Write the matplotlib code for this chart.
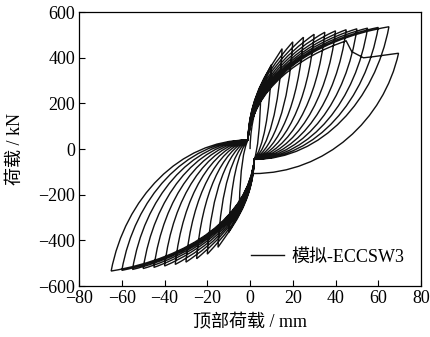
import numpy as np
import matplotlib
matplotlib.use("Agg")
import matplotlib.pyplot as plt
from matplotlib.path import Path
from matplotlib.patches import PathPatch
from matplotlib.lines import Line2D

plt.rcParams['font.family'] = ['Liberation Serif', 'Noto Sans CJK SC']

# cycle amplitudes (mm) and peak loads (kN)
amp = [5, 10, 15, 20, 25, 30, 35, 40, 45, 50, 55, 60, 65]
pos_peak = [250, 370, 440, 470, 490, 503, 512, 518, 523, 527, 530, 533, 536]
neg_peak = [-245, -365, -430, -460, -480, -495, -505, -512, -518, -523, -527, -531, -534]

# points where the unloading branches meet near the origin
pos_meet = (2, -45)
neg_meet = (-1, 40)

# last half cycle (failure)
last_x = [45, 47.6, 53.1, 57.8, 69.5]
last_y = [474, 427, 400, 405, 420]
last_end = (1.6, -107)

AMAX = 65.0


def unload(p0, p3):
    # bezier handles: drops steeply first, then bends towards the centre
    dx, dy = p3[0] - p0[0], p3[1] - p0[1]
    k = min(abs(p0[0]) / AMAX, 1)
    c1 = (p0[0] + 0.1 * dx, p0[1] + 0.55 * dy)
    c2 = (p0[0] + 0.5 * dx, p0[1] + (0.85 + 0.15 * k) * dy)
    return [c1, c2, p3]


def reload(p0, p3):
    dx, dy = p3[0] - p0[0], p3[1] - p0[1]
    s = 1 - min(abs(p3[0]) / AMAX, 1)
    c1 = (p0[0] + 0.045 * dx, p0[1] + 0.52 * dy)
    c2 = (p0[0] + (0.45 + 0.3 * s) * dx, p0[1] + (0.88 - 0.1 * s) * dy)
    return [c1, c2, p3]


verts = [(0, 0)]
codes = [Path.MOVETO]
cur = (0, 0)
for d, p, n in zip(amp, pos_peak, neg_peak):
    for seg in (reload(cur, (d, p)), unload((d, p), pos_meet),
                reload(pos_meet, (-d, n)), unload((-d, n), neg_meet)):
        verts += seg
        codes += [Path.CURVE4] * 3
    cur = neg_meet

verts += reload(cur, (last_x[0], last_y[0]))
codes += [Path.CURVE4] * 3
for x, y in zip(last_x[1:], last_y[1:]):
    verts.append((x, y))
    codes.append(Path.LINETO)
verts += unload((last_x[-1], last_y[-1]), last_end)
codes += [Path.CURVE4] * 3

fig = plt.figure(figsize=(4.3, 3.37), dpi=100)
ax = fig.add_axes([0.184, 0.151, 0.795, 0.813])
ax.add_patch(PathPatch(Path(verts, codes), fill=False, edgecolor='#111111', lw=1.0))

ax.set_xlim(-80, 80)
ax.set_ylim(-600, 600)
ax.set_xticks(np.arange(-80, 81, 20))
ax.set_yticks(np.arange(-600, 601, 200))
ax.tick_params(direction='in', length=4, labelsize=13, top=False, right=False, pad=3)
for s in ax.spines.values():
    s.set_linewidth(0.9)
ax.set_xlabel('顶部荷载 / mm', fontsize=13)
ax.set_ylabel('荷载 / kN', fontsize=13)
ax.xaxis.set_label_coords(0.5, -0.135)
ax.xaxis.label.set_va('center')
ax.yaxis.set_label_coords(-0.185, 0.5)
ax.yaxis.label.set_va('center')

h = Line2D([], [], color='#111111', lw=1.0)
ax.legend([h], ['模拟-ECCSW3'], loc='center right', frameon=False, fontsize=13,
          handlelength=1.8, handletextpad=0.45, bbox_to_anchor=(1.0, 0.106),
          borderaxespad=0.5)

fig.savefig('out.png', dpi=100)
